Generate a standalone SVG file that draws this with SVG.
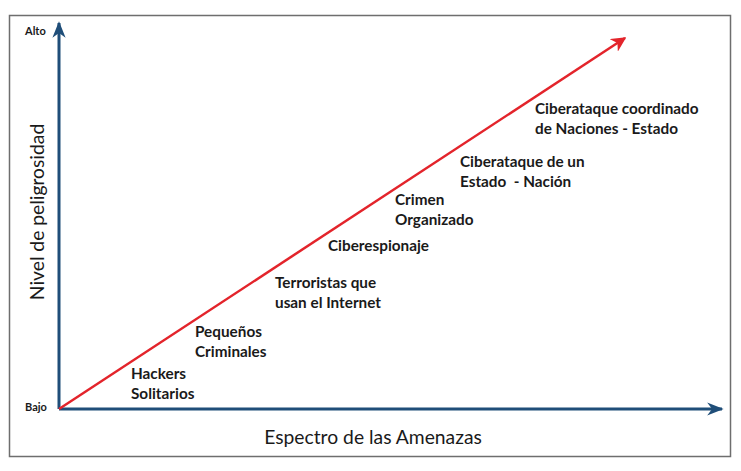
<svg xmlns="http://www.w3.org/2000/svg" width="741" height="471" viewBox="0 0 741 471">
<style>
.lbl{font-family:Lato,"Open Sans","Liberation Sans",sans-serif;font-weight:bold;font-size:15.3px;fill:#1a1a1a}
.ax{font-family:Lato,"Open Sans","Liberation Sans",sans-serif;font-size:19.3px;fill:#1a1a1a}
.tick{font-family:Lato,"Open Sans","Liberation Sans",sans-serif;font-weight:bold;font-size:11px;fill:#1a1a1a}
</style>
<defs>
<marker id="blueArrow" viewBox="0 0 10 8" refX="9" refY="4" markerWidth="5.5" markerHeight="4.4" orient="auto" markerUnits="strokeWidth">
<path d="M0,0 L10,4 L0,8 L3,4 Z" fill="#1f4e79"/>
</marker>
<marker id="redArrow" viewBox="0 0 10 10" refX="9" refY="5" markerWidth="6" markerHeight="6" orient="auto" markerUnits="strokeWidth">
<path d="M0,0 L10,5 L0,10 L3,5 Z" fill="#e3242b"/>
</marker>
</defs>
<rect x="0" y="0" width="741" height="471" fill="#ffffff"/>
<rect x="9.5" y="15.5" width="721" height="441" fill="none" stroke="#6e6e6e" stroke-width="1.5"/>
<g id="connectors">
<line x1="59" y1="409" x2="59" y2="23" stroke="#1f4e79" stroke-width="3" marker-end="url(#blueArrow)"/>
<line x1="59" y1="409" x2="722" y2="409" stroke="#1f4e79" stroke-width="3" marker-end="url(#blueArrow)"/>
<line x1="59" y1="409" x2="625" y2="38" stroke="#e3242b" stroke-width="2.5" marker-end="url(#redArrow)"/>
</g>
<g id="axis-labels">
<text class="tick" x="25" y="35">Alto</text>
<text class="tick" x="25" y="411">Bajo</text>
<text class="ax" transform="translate(44,212) rotate(-90)" text-anchor="middle">Nivel de peligrosidad</text>
<text class="ax" x="373" y="444" text-anchor="middle">Espectro de las Amenazas</text>
</g>
<g id="n1"><text class="lbl" x="131" y="379">Hackers</text><text class="lbl" x="131" y="399">Solitarios</text></g>
<g id="n2"><text class="lbl" x="195" y="337">Pequeños</text><text class="lbl" x="195" y="357">Criminales</text></g>
<g id="n3"><text class="lbl" x="275" y="288">Terroristas que</text><text class="lbl" x="275" y="308">usan el Internet</text></g>
<g id="n4"><text class="lbl" x="328" y="251">Ciberespionaje</text></g>
<g id="n5"><text class="lbl" x="395" y="205">Crimen</text><text class="lbl" x="395" y="225">Organizado</text></g>
<g id="n6"><text class="lbl" x="460" y="167">Ciberataque de un</text><text class="lbl" x="460" y="187">Estado&#160; - Nación</text></g>
<g id="n7"><text class="lbl" x="535" y="114">Ciberataque coordinado</text><text class="lbl" x="535" y="134">de Naciones - Estado</text></g>
</svg>
